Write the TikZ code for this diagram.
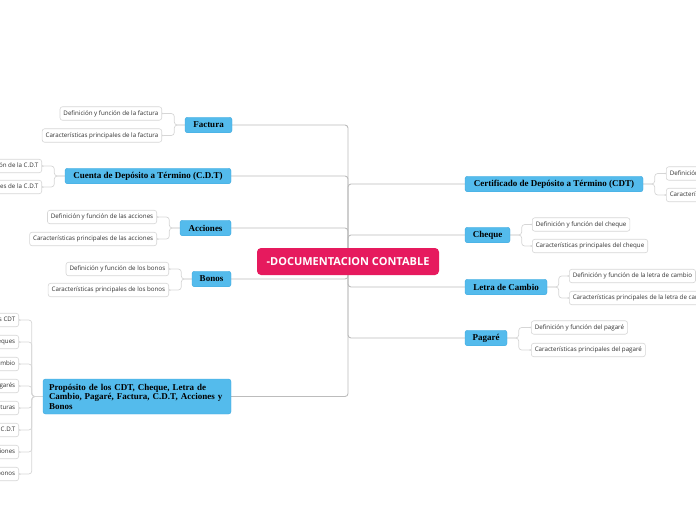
\documentclass[tikz,border=0pt]{standalone}
\usepackage{fontspec}
\setmainfont{Liberation Serif}
\newfontfamily\leaffont{Open Sans}
\newfontfamily\rootfont{Open Sans}
\usetikzlibrary{arrows.meta, positioning}
\definecolor{myblue}{RGB}{84,187,236}
\definecolor{mybluedark}{RGB}{62,168,222}
\definecolor{mypink}{RGB}{230,26,94}
\definecolor{mygrey}{RGB}{188,188,188}
\definecolor{myleafline}{RGB}{214,214,214}
\definecolor{myleaftext}{RGB}{50,50,50}
\pgfdeclarelayer{bg}
\pgfsetlayers{bg,main}
\tikzset{
  root/.style={rectangle, fill=mypink, text=white,
    font=\rootfont\bfseries\fontsize{11}{12}\selectfont,
    minimum width=182pt, minimum height=27pt, rounded corners=4pt, inner sep=0pt},
  topic/.style={rectangle, fill=myblue, draw=mybluedark, line width=0.4pt,
    font=\bfseries\fontsize{9}{9.5}\selectfont,
    minimum height=15.5pt, rounded corners=2.5pt, inner sep=0pt},
  leaf/.style={rectangle, fill=white, draw=myleafline, line width=0.6pt,
    font=\leaffont\fontsize{6.2}{7}\selectfont, text=myleaftext,
    minimum height=13.5pt, rounded corners=2.5pt, inner xsep=3.5pt, inner ysep=0pt},
  link/.style={draw=mygrey, line width=0.9pt, rounded corners=3pt},
  twig/.style={draw=myleafline, line width=0.7pt, rounded corners=3pt,
    -{Circle[length=1.6pt, fill=mygrey]}}
}
\begin{document}
\begin{tikzpicture}[x=1pt, y=-1pt]
  \useasboundingbox (0,0) rectangle (696,520);

  % central node
  \node[root] (root) at (348,261.5) {-DOCUMENTACION CONTABLE};

  % left topics
  \node[topic, minimum width=47pt] (factura) at (208.5,125) {Factura};
  \node[topic, minimum width=166pt] (cuenta) at (148,176) {Cuenta de Depósito a Término (C.D.T)};
  \node[topic, minimum width=51pt] (acciones) at (205.5,228) {Acciones};
  \node[topic, minimum width=39pt] (bonos) at (211.5,279) {Bonos};
  \node[topic, minimum width=188pt, minimum height=35pt, text width=176pt, align=left] (prop) at (137,396.5)
    {Propósito de los CDT, Cheque, Letra de\\Cambio, Pagaré, Factura, C.D.T, Acciones y\\Bonos};

  % right topics
  \node[topic, minimum width=178pt] (cdt) at (554,184) {Certificado de Depósito a Término (CDT)};
  \node[topic, minimum width=45pt] (cheque) at (487.5,235) {Cheque};
  \node[topic, minimum width=82pt] (letra) at (506,287) {Letra de Cambio};
  \node[topic, minimum width=42pt] (pagare) at (486,338) {Pagaré};

  % left leaves
  \node[leaf, anchor=east] (fa1) at (162,113.5) {Definición y función de la factura};
  \node[leaf, anchor=east] (fa2) at (162,135.5) {Características principales de la factura};
  \node[leaf, anchor=east] (cu1) at (42,166) {Definición y función de la C.D.T};
  \node[leaf, anchor=east] (cu2) at (42,187) {Características principales de la C.D.T};
  \node[leaf, anchor=east] (ac1) at (157,217) {Definición y función de las acciones};
  \node[leaf, anchor=east] (ac2) at (157,239) {Características principales de las acciones};
  \node[leaf, anchor=east] (bo1) at (169,269) {Definición y función de los bonos};
  \node[leaf, anchor=east] (bo2) at (169,290) {Características principales de los bonos};
  \foreach \txt [count=\i] in {Propósito de los CDT, Propósito de los cheques,
      Propósito de la letra de cambio, Propósito de los pagarés, Propósito de las facturas,
      Propósito de la C.D.T, Propósito de las acciones, Propósito de los bonos}
    \node[leaf, anchor=east] (p\i) at (19,{298+22*\i}) {\txt};

  % right leaves
  \node[leaf, anchor=west] (cd1) at (666,173.5) {Definición y función del CDT};
  \node[leaf, anchor=west] (cd2) at (666,195) {Características principales del CDT};
  \node[leaf, anchor=west] (ch1) at (532,224.5) {Definición y función del cheque};
  \node[leaf, anchor=west] (ch2) at (532,246) {Características principales del cheque};
  \node[leaf, anchor=west] (le1) at (569,276) {Definición y función de la letra de cambio};
  \node[leaf, anchor=west] (le2) at (569,298) {Características principales de la letra de cambio};
  \node[leaf, anchor=west] (pa1) at (531,327.5) {Definición y función del pagaré};
  \node[leaf, anchor=west] (pa2) at (531,350) {Características principales del pagaré};

  \begin{pgfonlayer}{bg}
    % trunk links
    \foreach \t in {factura, cuenta, acciones, bonos, prop}
      \draw[link] (\t.east) -| (root);
    \foreach \t in {cdt, cheque, letra, pagare}
      \draw[link] (root) |- (\t.west);

    % leaf links
    \foreach \t/\a/\b in {factura/fa1/fa2, cuenta/cu1/cu2, acciones/ac1/ac2, bonos/bo1/bo2} {
      \draw[twig] (\t.west) -- ++(-10.5,0) |- (\a.east);
      \draw[twig] (\t.west) -- ++(-10.5,0) |- (\b.east);
    }
    \foreach \i in {1,...,8}
      \draw[twig] (prop.west) -- ++(-11,0) |- (p\i.east);
    \foreach \t/\a/\b in {cdt/cd1/cd2, cheque/ch1/ch2, letra/le1/le2, pagare/pa1/pa2} {
      \draw[twig] (\t.east) -- ++(11.5,0) |- (\a.west);
      \draw[twig] (\t.east) -- ++(11.5,0) |- (\b.west);
    }
  \end{pgfonlayer}
\end{tikzpicture}
\end{document}
